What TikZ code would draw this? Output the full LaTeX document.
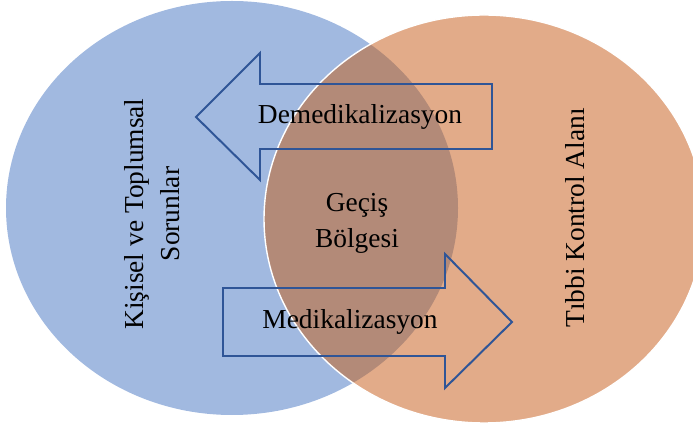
\documentclass[tikz,border=0pt]{standalone}
\usepackage{fontspec}
\setmainfont{Liberation Serif}
\usepackage{xcolor}
\usepackage{tikz}
\usetikzlibrary{positioning}
\definecolor{sorunc}{HTML}{A1B9E0}
\definecolor{tibbic}{HTML}{E2AB89}
\definecolor{gecisc}{HTML}{B38A78}
\definecolor{okc}{HTML}{2F5597}
\newcommand{\lbl}{\fontsize{19.5}{25.5}\selectfont}

\begin{document}
\begin{tikzpicture}[label/.style={align=center, inner sep=0pt, font=\lbl}, arrowbox/.style={draw=okc, line width=1.4pt, line join=miter}]
  \useasboundingbox (0,0) rectangle (17.325,10.625);
  % two fields and the overlap
  \fill[sorunc] (5.8,5.425) ellipse [x radius=5.65, y radius=5.175];
  \fill[tibbic] (12.1,5.15) ellipse [x radius=5.5, y radius=5.1];
  \begin{scope}
    \clip (5.8,5.425) ellipse [x radius=5.65, y radius=5.175];
    \fill[gecisc] (12.1,5.15) ellipse [x radius=5.5, y radius=5.1];
  \end{scope}
  \draw[white, line width=1pt] (12.1,5.15) ellipse [x radius=5.5, y radius=5.1];
  % block arrows
  \draw[arrowbox] (4.9,7.7) -- (6.5,9.3) -- (6.5,8.525) -- (12.3,8.525) -- (12.3,6.9) -- (6.5,6.9) -- (6.5,6.125) -- cycle;
  \draw[arrowbox] (12.8,2.575) -- (11.125,4.275) -- (11.125,3.425) -- (5.575,3.425) -- (5.575,1.725) -- (11.125,1.725) -- (11.125,0.925) -- cycle;
  % texts
  \node[label] (demed) at (9.0,7.7) {Demedikalizasyon};
  \node[label] (medik) at (8.75,2.575) {Medikalizasyon};
  \node[label] (gecis) at (8.925,5.05) {Geçiş\\Bölgesi};
  \node[label, rotate=90] (sorun) at (3.8,5.275) {Kişisel ve Toplumsal\\Sorunlar};
  \node[label, rotate=90] (tibbi) at (14.375,5.175) {Tıbbi Kontrol Alanı};
\end{tikzpicture}
\end{document}
